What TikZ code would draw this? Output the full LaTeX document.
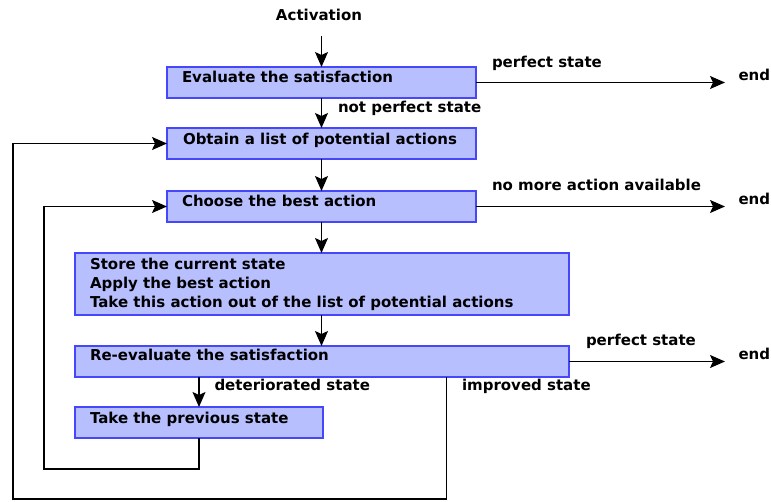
\documentclass[tikz,border=0pt]{standalone}
\usepackage{fontspec}
\setmainfont{DejaVu Sans}
\usetikzlibrary{arrows.meta}
\definecolor{boxfill}{RGB}{183,191,255}
\definecolor{boxline}{RGB}{70,70,250}
\begin{document}
\begin{tikzpicture}[x=1pt,y=-1pt,
  box/.style={draw=boxline, fill=boxfill, line width=1.2pt, inner sep=0pt, outer sep=0pt, anchor=north west},
  lbl/.style={font=\fontsize{15}{19.3}\selectfont\bfseries, inner sep=0pt, outer sep=0pt, anchor=base west},
  arr/.style={line width=1.3pt, -{Stealth[length=15pt, width=13pt, inset=3pt]}}]
\useasboundingbox (0,0) rectangle (771,502);

% boxes
\node[box, minimum width=309pt, minimum height=31pt] (b1) at (167,67) {};
\node[box, minimum width=309pt, minimum height=31pt] (b2) at (167,128) {};
\node[box, minimum width=309pt, minimum height=31pt] (b3) at (167,191) {};
\node[box, minimum width=494pt, minimum height=62pt] (b4) at (75,253) {};
\node[box, minimum width=494pt, minimum height=31pt] (b5) at (75,346) {};
\node[box, minimum width=248pt, minimum height=31pt] (b6) at (75,407) {};

% box texts
\node[lbl] (t1) at (182,83) {Evaluate the satisfaction};
\node[lbl] (t2) at (183,145) {Obtain a list of potential actions};
\node[lbl] (t3) at (182,207) {Choose the best action};
\node[lbl] (t4a) at (90,269.5) {Store the current state};
\node[lbl] (t4b) at (90,288.8) {Apply the best action};
\node[lbl] (t4c) at (90,308) {Take this action out of the list of potential actions};
\node[lbl] (t5) at (90,361) {Re-evaluate the satisfaction};
\node[lbl] (t6) at (90,423.5) {Take the previous state};

% other texts
\node[lbl, anchor=base] (act) at (319,21) {Activation};
\node[lbl] (l1) at (492,68) {perfect state};
\node[lbl] (l2) at (338,113) {not perfect state};
\node[lbl] (l3) at (492,190.5) {no more action available};
\node[lbl] (l4) at (586,346) {perfect state};
\node[lbl] (l5) at (214.5,391) {deteriorated state};
\node[lbl] (l6) at (462,391) {improved state};
\node[lbl] (e1) at (738.5,81) {end};
\node[lbl] (e2) at (738.5,205) {end};
\node[lbl] (e3) at (738.5,360) {end};

\coordinate (imp) at (446.5,0);

% connectors
\draw[arr, shorten <=15pt] (act.south -| b1.north) -- (b1.north);
\draw[arr] (b1.south) -- (b2.north);
\draw[arr] (b2.south) -- (b3.north);
\draw[arr] (b3.south) -- (b3.south |- b4.north);
\draw[arr] (b4.south -| b3.south) -- (b3.south |- b5.north);
\draw[arr] (b5.south -| b6.north) -- (b6.north);

\draw[arr, shorten >=13.5pt] (b1.east) -- (b1.east -| e1.west);
\draw[arr, shorten >=13.5pt] (b3.east) -- (b3.east -| e2.west);
\draw[arr, shorten >=13.5pt] (b5.east) -- (b5.east -| e3.west);

\draw[arr] (b6.south) |- (44,469) |- (b3.west);
\draw[arr] (b5.south -| imp) |- (13,499) |- (b2.west);
\end{tikzpicture}
\end{document}
